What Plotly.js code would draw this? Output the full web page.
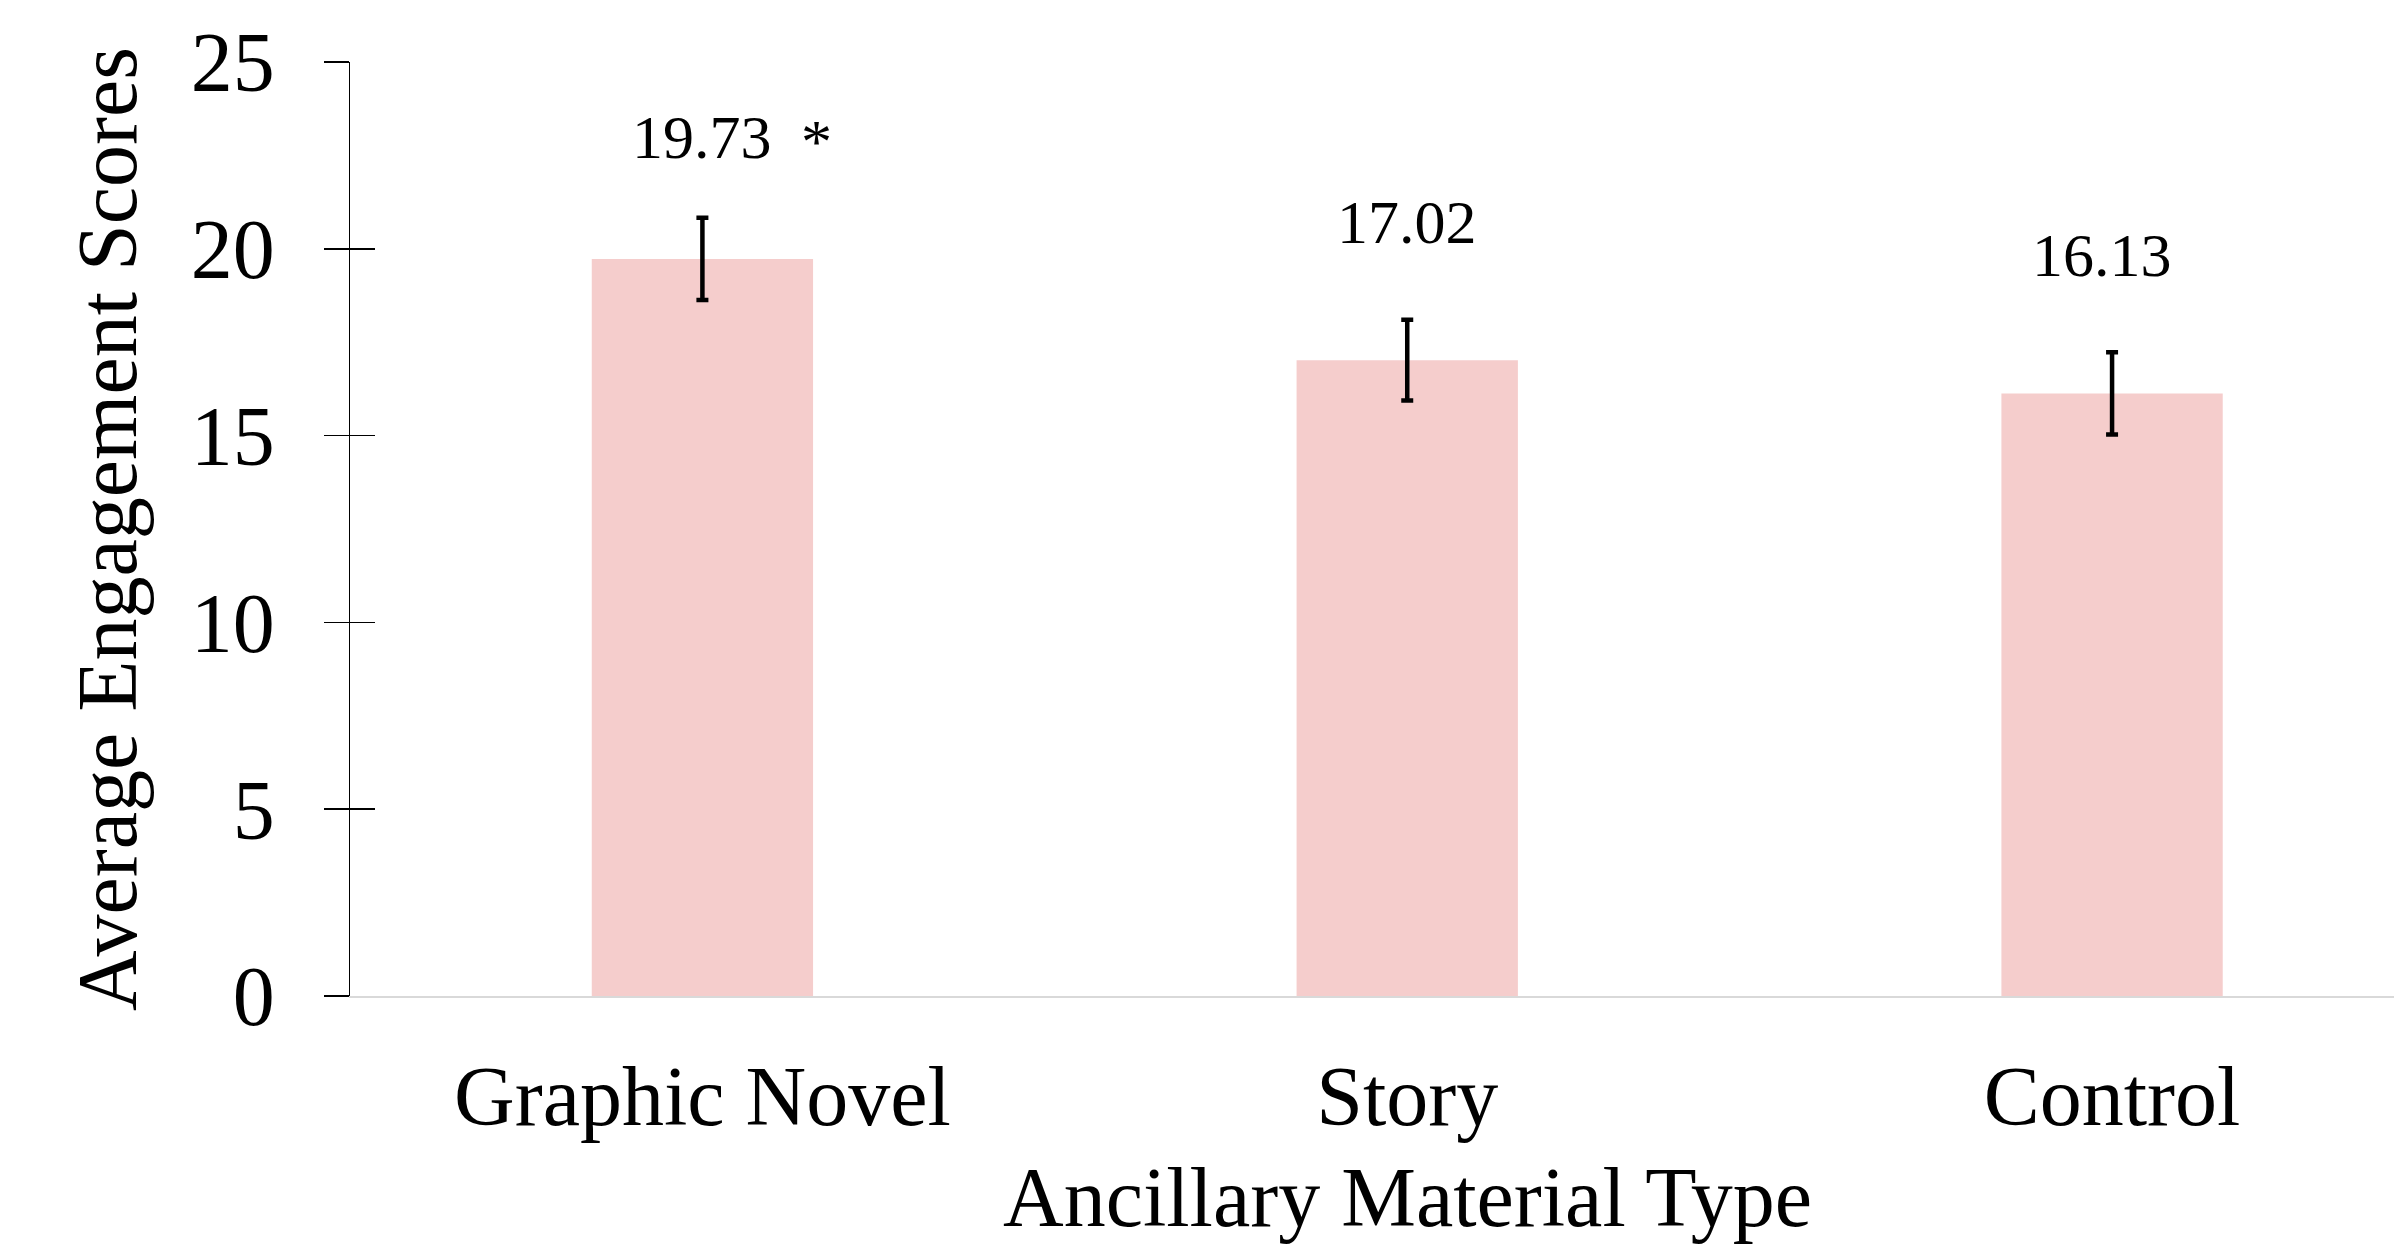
<!DOCTYPE html>
<html>
<head>
<meta charset="utf-8">
<script src="https://cdn.plot.ly/plotly-3.0.1.min.js"></script>
<style>html,body{margin:0;padding:0;background:#fff;}#chart{width:2394px;height:1245px;}</style>
</head>
<body>
<div id="chart"></div>
<script>
const categories = ["Graphic Novel", "Story", "Control"];
const scores = [19.73, 17.02, 16.13];
const errors = [1.1, 1.08, 1.1];
const valueLabels = ["19.73", "17.02", "16.13"];
const significance = ["*", "", ""];
const yTickValues = [0, 5, 10, 15, 20, 25];
const xTitle = "Ancillary Material Type";
const yTitle = "Average Engagement Scores";

const FONT = "Liberation Serif, Times New Roman, serif";
const labelShiftY = [122, 138, 138];
const labelShiftX = [0, 0, -10];

const trace = {
  type: "bar",
  x: categories,
  y: scores,
  marker: { color: "#f5cdcc", line: { width: 0 } },
  error_y: { type: "data", array: errors, visible: true, color: "#000000", thickness: 4.5, width: 6 },
  hoverinfo: "x+y",
  showlegend: false
};

const annotations = [];
categories.forEach((c, i) => {
  annotations.push({
    x: c, y: scores[i], xref: "x", yref: "y",
    text: valueLabels[i], showarrow: false,
    xanchor: "center", yanchor: "middle", yshift: labelShiftY[i], xshift: labelShiftX[i],
    font: { family: FONT, size: 62, color: "#000" }
  });
  if (significance[i]) {
    annotations.push({
      x: c, y: scores[i], xref: "x", yref: "y",
      text: significance[i], showarrow: false,
      xanchor: "center", yanchor: "middle", yshift: labelShiftY[i] - 4, xshift: 114,
      font: { family: FONT, size: 62, color: "#000" }
    });
  }
});
// x-axis title, centred under the middle category as in the reference
annotations.push({
  x: categories[1], xref: "x", y: -0.216, yref: "paper",
  text: xTitle, showarrow: false, xanchor: "center", yanchor: "middle",
  font: { family: FONT, size: 84, color: "#000" }
});

const layout = {
  width: 2394, height: 1245,
  paper_bgcolor: "#ffffff", plot_bgcolor: "#ffffff",
  margin: { l: 350, r: 0, t: 62, b: 249, pad: 0 },
  bargap: 0.686,
  font: { family: FONT, color: "#000" },
  xaxis: {
    type: "category",
    range: [-0.5, 2.4],
    showline: true, linecolor: "#d9d9d9", linewidth: 2,
    ticks: "", showgrid: false, zeroline: false,
    tickfont: { family: FONT, size: 84, color: "#000" },
    ticklabelstandoff: 26
  },
  yaxis: {
    range: [0, 25],
    tickvals: yTickValues,
    ticktext: yTickValues.map(String),
    showline: true, linecolor: "#000", linewidth: 1.5,
    ticks: "outside", ticklen: 25, tickwidth: 1.5, tickcolor: "#000",
    showgrid: false, zeroline: false,
    tickfont: { family: FONT, size: 84, color: "#000" },
    ticklabelstandoff: 32,
    title: { text: yTitle, font: { family: FONT, size: 84, color: "#000" }, standoff: 26 }
  },
  yaxis2: {
    overlaying: "y", matches: "y", side: "left", anchor: "x",
    range: [0, 25], tickvals: yTickValues,
    ticks: "inside", ticklen: 25, tickwidth: 1.5, tickcolor: "#000",
    showticklabels: false, showline: false, showgrid: false, zeroline: false
  },
  annotations: annotations
};

const dummy = { type: "scatter", x: [categories[0]], y: [scores[0]], yaxis: "y2", mode: "markers", marker: { opacity: 0 }, hoverinfo: "skip", showlegend: false };

Plotly.newPlot("chart", [trace, dummy], layout, { displayModeBar: false, staticPlot: true });
</script>
</body>
</html>
